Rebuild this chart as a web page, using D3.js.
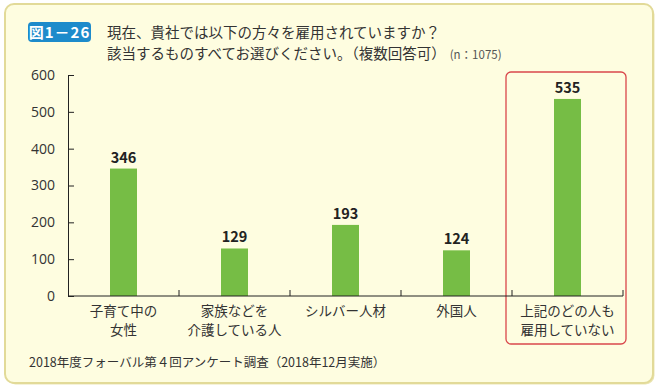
<!DOCTYPE html>
<html>
<head>
<meta charset="utf-8">
<script src="https://cdn.jsdelivr.net/npm/d3@7"></script>
<style>
  body { margin: 0; background: #fff; }
  svg { display: block; font-family: "Noto Sans CJK JP", "Noto Sans", sans-serif; }
</style>
</head>
<body>
<div class="graph"></div>
<script>
// data
const categories = [["子育て中の", "女性"], ["家族などを", "介護している人"], ["シルバー人材"], ["外国人"], ["上記のどの人も", "雇用していない"]];
const values = [346, 129, 193, 124, 535];
const yTicks = [0, 100, 200, 300, 400, 500, 600];
const titleLines = ["現在、貴社では以下の方々を雇用されていますか？", "該当するものすべてお選びください。（複数回答可）"];
const sampleNote = "(n：1075)";
const badgeText = "図1－26";
const footnote = "2018年度フォーバル第４回アンケート調査（2018年12月実施）";

const SIZE = {X: 660, Y: 389};
const MARGIN = {TOP: 75, LEFT: 68, RIGHT: 37, BOTTOM: 93};
const DIM = {WIDTH: SIZE.X - MARGIN.LEFT - MARGIN.RIGHT, HEIGHT: SIZE.Y - MARGIN.TOP - MARGIN.BOTTOM};

const svg = d3.select(".graph").append("svg")
    .attr("width", SIZE.X)
    .attr("height", SIZE.Y);

// panel
svg.append("rect")
    .attr("x", 6.5).attr("y", 5.5).attr("width", 648).attr("height", 379)
    .attr("rx", 9).attr("fill", "#ebe5b4");
svg.append("rect")
    .attr("x", 5).attr("y", 4).attr("width", 648).attr("height", 379)
    .attr("rx", 9).attr("fill", "#fefde0")
    .attr("stroke", "#e2da98").attr("stroke-width", 2);

// badge
svg.append("rect")
    .attr("x", 28).attr("y", 22).attr("width", 63).attr("height", 20)
    .attr("rx", 4).attr("fill", "#1d8bcb");
svg.append("text")
    .attr("x", 59.5).attr("y", 38)
    .attr("text-anchor", "middle")
    .attr("fill", "#fff").attr("font-weight", "bold").attr("font-size", 15)
    .attr("letter-spacing", 1)
    .text(badgeText);

// title
const title = svg.append("text").attr("fill", "#333").attr("font-size", 14.5);
titleLines.forEach((t, i) => {
    title.append("tspan").attr("x", 107).attr("y", 38 + i * 21).text(t);
});
const line2 = title.selectAll("tspan").nodes()[1];
svg.append("text")
    .attr("x", 107 + line2.getComputedTextLength() + 4).attr("y", 59)
    .attr("fill", "#555").attr("font-size", 11.5)
    .text(sampleNote);

const graph = svg.append("g")
    .attr("transform", `translate(${MARGIN.LEFT}, ${MARGIN.TOP})`);

// scales
const x = d3.scaleBand()
    .domain(d3.range(categories.length))
    .range([0, DIM.WIDTH]);

const y = d3.scaleLinear()
    .domain([0, 600])
    .range([DIM.HEIGHT, 0]);

// highlight box for last category
const last = categories.length - 1;
graph.append("rect")
    .attr("x", x(last) - 6)
    .attr("y", -3)
    .attr("width", x.bandwidth() + 9)
    .attr("height", DIM.HEIGHT + 51)
    .attr("rx", 5)
    .attr("fill", "none")
    .attr("stroke", "#d9474b")
    .attr("stroke-width", 1.3);

// bars
const barW = 27;
graph.selectAll("rect.bar")
    .data(values)
    .enter()
    .append("rect")
        .attr("class", "bar")
        .attr("x", (d, i) => x(i) + x.bandwidth() / 2 - barW / 2)
        .attr("y", d => y(d))
        .attr("width", barW)
        .attr("height", d => DIM.HEIGHT - y(d))
        .attr("fill", "#76bd45");

graph.selectAll("text.val")
    .data(values)
    .enter()
    .append("text")
        .attr("class", "val")
        .attr("x", (d, i) => x(i) + x.bandwidth() / 2)
        .attr("y", d => y(d) - 6)
        .attr("text-anchor", "middle")
        .attr("font-weight", "bold")
        .attr("font-size", 14.5)
        .attr("fill", "#222")
        .text(d => d);

// y axis
const yAxis = graph.append("g")
    .call(d3.axisLeft(y).tickValues(yTicks).tickSize(-6).tickPadding(13));
yAxis.select(".domain").attr("stroke", "#222").attr("d", `M6,0.5H0.5V${DIM.HEIGHT}`);
yAxis.selectAll(".tick line").attr("stroke", "#222");
yAxis.selectAll(".tick text")
    .attr("font-size", 14).attr("fill", "#333")
    .attr("font-family", "'Open Sans', 'Noto Sans', sans-serif");

// x axis
const bounds = d3.range(categories.length + 1).map(i => i * x.step());
const xAxis = graph.append("g").attr("transform", `translate(0, ${DIM.HEIGHT})`);
xAxis.append("line")
    .attr("x1", 0).attr("x2", DIM.WIDTH)
    .attr("stroke", "#222");
xAxis.selectAll("line.tick")
    .data(bounds.slice(1))
    .enter()
    .append("line")
        .attr("class", "tick")
        .attr("x1", d => d).attr("x2", d => d)
        .attr("y1", 0).attr("y2", -6)
        .attr("stroke", "#222");

const labels = xAxis.selectAll("text.cat")
    .data(categories)
    .enter()
    .append("text")
        .attr("class", "cat")
        .attr("text-anchor", "middle")
        .attr("font-size", 13.5)
        .attr("fill", "#333");
labels.each(function(d, i) {
    d3.select(this).selectAll("tspan")
        .data(d)
        .enter()
        .append("tspan")
            .attr("x", x(i) + x.bandwidth() / 2)
            .attr("y", (t, j) => 20 + j * 19)
            .text(t => t);
});

// footnote
svg.append("text")
    .attr("x", 29).attr("y", 367)
    .attr("font-size", 12.5).attr("fill", "#333")
    .text(footnote);
</script>
</body>
</html>
